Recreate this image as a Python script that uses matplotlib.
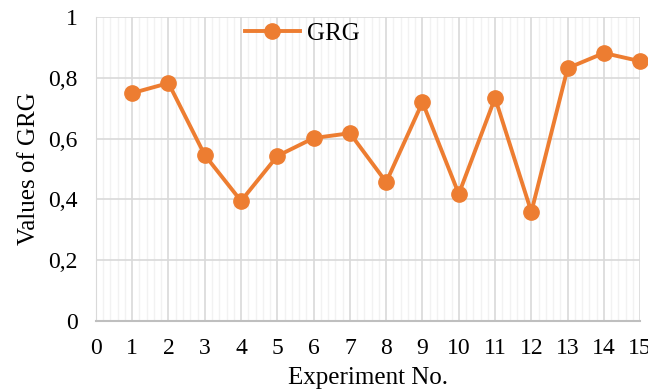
import matplotlib
matplotlib.use('Agg')
import matplotlib.pyplot as plt
from matplotlib.ticker import MultipleLocator, FuncFormatter

plt.rcParams['font.family'] = ['Liberation Serif', 'DejaVu Serif']

experiments = list(range(1, 16))
grg = [0.750, 0.783, 0.546, 0.395, 0.543, 0.602, 0.618, 0.457,
       0.720, 0.418, 0.734, 0.359, 0.832, 0.882, 0.855]


def comma_fmt(v, pos):
    v = round(v, 1)
    if v in (0, 1):
        return str(int(v))
    return f'{v:.1f}'.replace('.', ',')


fig = plt.figure(figsize=(6.48, 3.90), dpi=100)
ax = fig.add_axes([0.148, 0.177, 0.840, 0.779])

ax.plot(experiments, grg, color='#ED7D31', linewidth=2.8, marker='o',
        markersize=11, label='GRG', zorder=3, clip_on=False)

ax.set_xlim(0, 15)
ax.set_ylim(0, 1)
ax.xaxis.set_major_locator(MultipleLocator(1))
ax.xaxis.set_minor_locator(MultipleLocator(0.2))
ax.yaxis.set_major_locator(MultipleLocator(0.2))
ax.yaxis.set_major_formatter(FuncFormatter(comma_fmt))

ax.grid(which='major', color='#D9D9D9', linewidth=1.2)
ax.grid(which='minor', axis='x', color='#F2F2F2', linewidth=1.0)
ax.set_axisbelow(True)
for side in ['top', 'right']:
    ax.spines[side].set_visible(False)
ax.spines['left'].set_color('#D9D9D9')
ax.spines['bottom'].set_color('#BFBFBF')
ax.spines['bottom'].set_linewidth(1.5)
ax.tick_params(axis='x', which='both', length=0, labelsize=17, pad=12)
ax.tick_params(axis='y', which='both', length=0, labelsize=17, pad=13)

ax.set_xlabel('Experiment No.', fontsize=18, labelpad=6)
ax.set_ylabel('Values of GRG', fontsize=18, labelpad=6)

ax.legend(loc='upper left', bbox_to_anchor=(0.255, 1.015), frameon=False,
          fontsize=18, handlelength=2.2, handletextpad=0.3,
          borderaxespad=0.0)

fig.savefig('out.png', dpi=100)
